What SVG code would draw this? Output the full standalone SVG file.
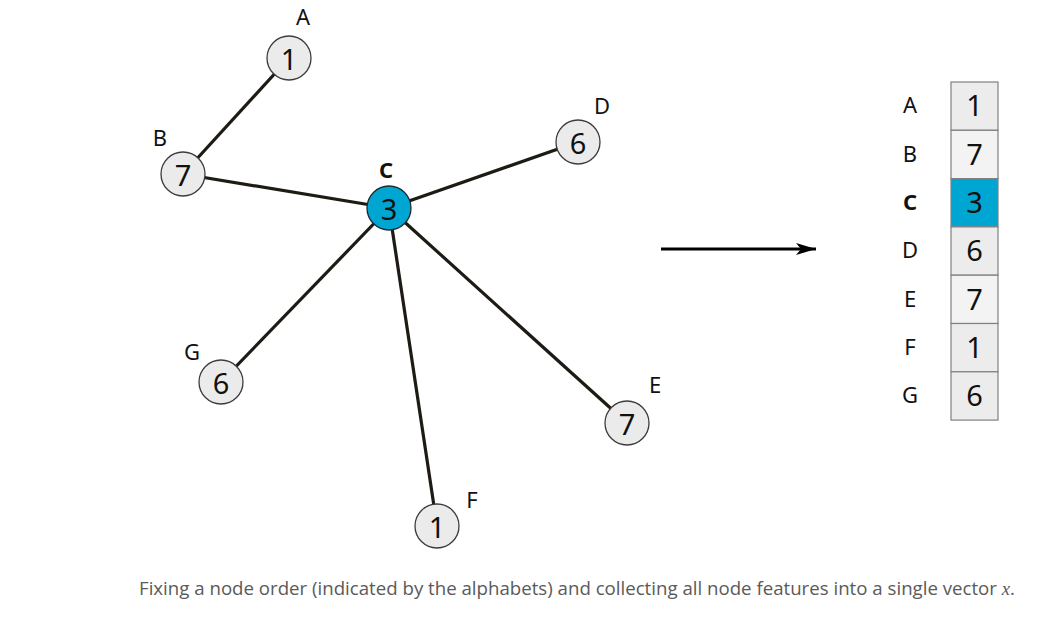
<svg xmlns="http://www.w3.org/2000/svg" width="1054" height="617" viewBox="0 0 1054 617">
<defs>
<style>
.edge{stroke:#1e1a14;stroke-width:3.2;fill:none}
.node{fill:#ebebeb;stroke:#3c3c3c;stroke-width:1.3}
.hl{fill:#00a6d2;stroke:#1e2a30;stroke-width:1.3}
.cell{stroke:#808080;stroke-width:1.2}
</style>
<marker id="ah" viewBox="0 0 20 12" refX="20" refY="6" markerWidth="20" markerHeight="12" markerUnits="userSpaceOnUse" orient="auto">
<path d="M0,0 L20,6 L0,12 L5,6 Z" fill="#000"/>
</marker>
</defs>
<rect width="1054" height="617" fill="#fff"/>
<g id="connectors">
<line class="edge" x1="289" y1="58" x2="183" y2="174"/>
<line class="edge" x1="183" y1="174" x2="389" y2="208"/>
<line class="edge" x1="389" y1="208" x2="578" y2="142"/>
<line class="edge" x1="389" y1="208" x2="221" y2="382"/>
<line class="edge" x1="389" y1="208" x2="627" y2="423"/>
<line class="edge" x1="389" y1="208" x2="437" y2="526"/>
<line id="arrow" x1="661" y1="249" x2="816" y2="249" stroke="#000" stroke-width="3" marker-end="url(#ah)"/>
</g>
<g font-family="Noto Sans, Open Sans, sans-serif" fill="#111" text-anchor="middle" dominant-baseline="central">
<g id="nodeA"><circle class="node" cx="289" cy="58" r="22"/><text font-size="29" x="289" y="58">1</text><text font-size="22" x="303" y="16">A</text></g>
<g id="nodeB"><circle class="node" cx="183" cy="174" r="22"/><text font-size="29" x="183" y="174">7</text><text font-size="22" x="160" y="137">B</text></g>
<g id="nodeC"><circle class="hl" cx="389" cy="208" r="22"/><text font-size="29" x="389" y="208">3</text><text font-size="22" font-weight="bold" x="386" y="169">C</text></g>
<g id="nodeD"><circle class="node" cx="578" cy="142" r="22"/><text font-size="29" x="578" y="142">6</text><text font-size="22" x="602" y="105">D</text></g>
<g id="nodeE"><circle class="node" cx="627" cy="423" r="22"/><text font-size="29" x="627" y="423">7</text><text font-size="22" x="655" y="384">E</text></g>
<g id="nodeF"><circle class="node" cx="437" cy="526" r="22"/><text font-size="29" x="437" y="526">1</text><text font-size="22" x="472" y="499">F</text></g>
<g id="nodeG"><circle class="node" cx="221" cy="382" r="22"/><text font-size="29" x="221" y="382">6</text><text font-size="22" x="192" y="351">G</text></g>
<g id="vector">
<rect class="cell" x="951" y="82" width="47" height="48.3" fill="#ececec"/>
<rect class="cell" x="951" y="130.3" width="47" height="48.3" fill="#f3f3f3"/>
<rect class="cell" x="951" y="178.6" width="47" height="48.3" fill="#00a6d2"/>
<rect class="cell" x="951" y="226.9" width="47" height="48.3" fill="#ececec"/>
<rect class="cell" x="951" y="275.2" width="47" height="48.3" fill="#f3f3f3"/>
<rect class="cell" x="951" y="323.5" width="47" height="48.3" fill="#ececec"/>
<rect class="cell" x="951" y="371.8" width="47" height="48.3" fill="#ececec"/>
<g font-size="29">
<text x="974.5" y="104">1</text>
<text x="974.5" y="153">7</text>
<text x="974.5" y="201">3</text>
<text x="974.5" y="249">6</text>
<text x="974.5" y="298">7</text>
<text x="974.5" y="346">1</text>
<text x="974.5" y="394">6</text>
</g>
<g font-size="22">
<text x="910" y="104">A</text>
<text x="910" y="153">B</text>
<text x="910" y="201" font-weight="bold">C</text>
<text x="910" y="249">D</text>
<text x="910" y="298">E</text>
<text x="910" y="346">F</text>
<text x="910" y="394">G</text>
</g>
</g>
</g>
<text x="139" y="595" font-family="Open Sans, Noto Sans, sans-serif" font-size="18" fill="#5a5a5a" textLength="876" lengthAdjust="spacingAndGlyphs">Fixing a node order (indicated by the alphabets) and collecting all node features into a single vector <tspan font-family="Liberation Serif, serif" font-style="italic">x</tspan>.</text>
</svg>
